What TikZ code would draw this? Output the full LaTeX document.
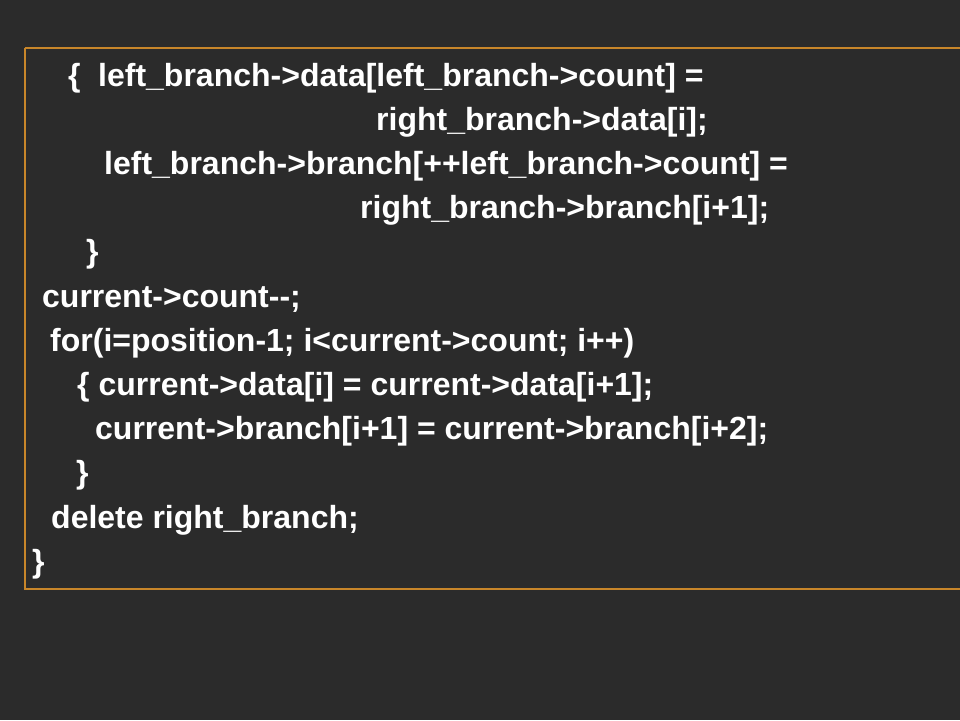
\documentclass[tikz,border=0pt]{standalone}
\usepackage{fontspec}
\setmainfont{Liberation Sans}
\definecolor{bg}{HTML}{2B2B2B}
\definecolor{frame}{HTML}{C8862A}
\tikzset{
  code/.style={anchor=base west, inner sep=0pt, text=white, font=\fontsize{32}{38}\selectfont\bfseries},
}
\begin{document}
\begin{tikzpicture}[x=1pt,y=-1pt]
\fill[bg] (0,0) rectangle (960,720);
\useasboundingbox (0,0) rectangle (960,720);
\draw[frame, line width=2pt] (24.5,48) -- (962,48) (24.5,48) -- (24.5,589) -- (962,589);
\node[code] (l1a) at (68,86) {\{};
\node[code] (l1b) at (98,86) {left\_branch->data[left\_branch->count] =};
\node[code] (l2) at (376,130.2) {right\_branch->data[i];};
\node[code] (l3) at (104,174.4) {left\_branch->branch[++left\_branch->count] =};
\node[code] (l4) at (360,218.6) {right\_branch->branch[i+1];};
\node[code] (l5) at (86,262.8) {\}};
\node[code] (l6) at (42,307) {current->count-{}-;};
\node[code] (l7) at (50,351.2) {for(i=position-1; i<current->count; i++)};
\node[code] (l8) at (77,395.4) {\{ current->data[i] = current->data[i+1];};
\node[code] (l9) at (95,439.6) {current->branch[i+1] = current->branch[i+2];};
\node[code] (l10) at (76,483.8) {\}};
\node[code] (l11) at (51,528) {delete right\_branch;};
\node[code] (l12) at (32,572.2) {\}};
\end{tikzpicture}
\end{document}
